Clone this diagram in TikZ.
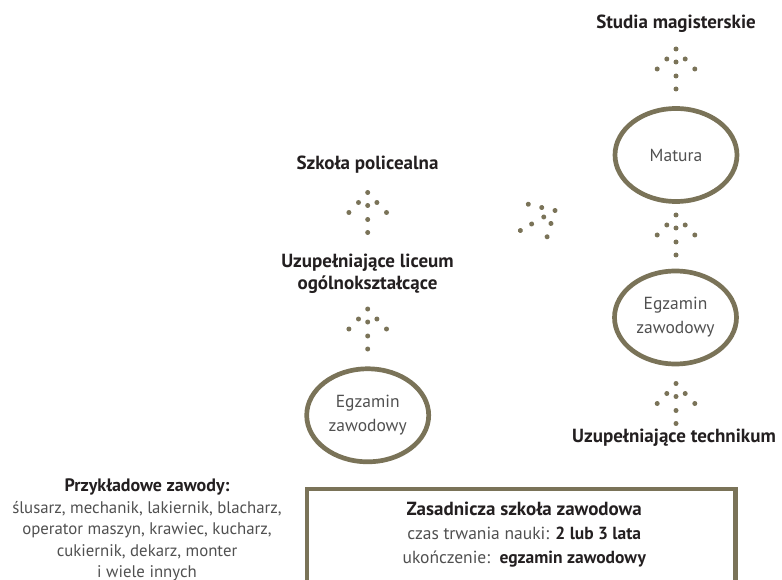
\documentclass[tikz,border=0pt]{standalone}
\usepackage{fontspec}
\setmainfont{PT Sans}
\usetikzlibrary{shapes.geometric,positioning}
\definecolor{khaki}{RGB}{122,115,88}
\definecolor{ink}{RGB}{35,31,32}
\definecolor{greytext}{RGB}{80,80,80}
\tikzset{
  dots/.pic={
    \foreach \x/\y in {0/-20,-9.2/-10,0/-7,9.2/-10,-18.8/0,18.8/0,0/7,0/20}
      \fill[khaki] (\x,\y) circle (2.5pt);
  }
}
\begin{document}
\begin{tikzpicture}[x=1pt,y=-1pt,
  head/.style={font=\bfseries\fontsize{19}{21.7}\selectfont,text=ink,align=center},
  plain/.style={font=\fontsize{16.8}{21.6}\selectfont,text=greytext,align=center},
  boxtext/.style={font=\fontsize{17.5}{24}\selectfont,text=greytext,align=center},
  exam/.style={draw=khaki,line width=4.7pt,ellipse,minimum width=122pt,minimum height=93pt,inner sep=0pt,
    font=\fontsize{17.5}{24}\selectfont,text=greytext,align=center}]
\useasboundingbox (0,0) rectangle (782,580);

\node[head] (1) at (676,24) {Studia magisterskie};
\node[exam] (2) at (676,155) {Matura};
\node[exam] (3) at (675.5,317.5) {Egzamin\\zawodowy};
\node[head] (4) at (674,438) {Uzupełniające technikum};

\node[head] (5) at (367.5,165) {Szkoła policealna};
\node[head] (6) at (367.5,274) {Uzupełniające liceum\\ogólnokształcące};
\node[exam] (7) at (367.7,415.3) {Egzamin\\zawodowy};

\node[plain] (8) at (147,530) {{\bfseries\fontsize{18}{21.6}\selectfont\color{ink}Przykładowe zawody:}\\ślusarz, mechanik, lakiernik, blacharz,\\operator maszyn, krawiec, kucharz,\\cukiernik, dekarz, monter\\i wiele innych};

\node[draw=khaki,line width=4.7pt,minimum width=428.5pt,minimum height=140pt,inner sep=0pt,anchor=north] (9) at (521.25,486.5) {};
\node[boxtext,below=12pt of 9.north,xshift=3pt] (10) {{\bfseries\fontsize{19}{24}\selectfont\color{ink}Zasadnicza szkoła zawodowa}\\czas trwania nauki: \textbf{\color{ink}2 lub 3 lata}\\ukończenie:\ \ \textbf{\color{ink}egzamin zawodowy}};

% dotted arrows
\pic at (676,69) {dots};
\pic at (676,235) {dots};
\pic at (676,403.5) {dots};
\pic at (367.7,212.5) {dots};
\pic at (367.7,329) {dots};
\pic[rotate=-60] at (537.7,220.5) {dots};
\end{tikzpicture}
\end{document}
